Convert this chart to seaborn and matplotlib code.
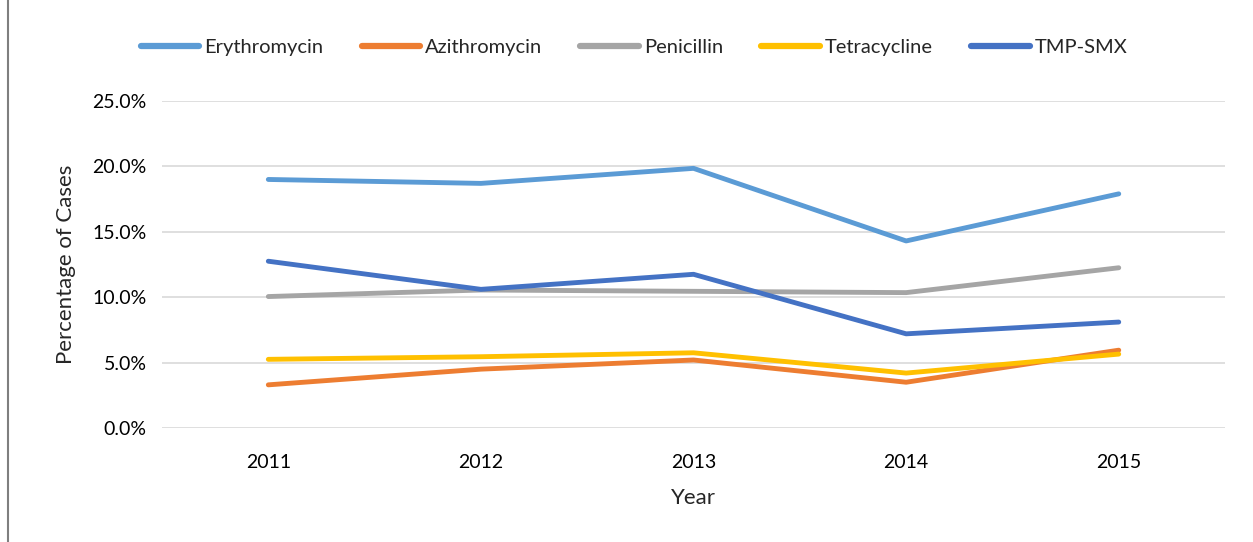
import matplotlib
matplotlib.use("Agg")
import matplotlib.pyplot as plt
from matplotlib.lines import Line2D
from matplotlib.ticker import PercentFormatter
import pandas as pd
import seaborn as sns

years = ["2011", "2012", "2013", "2014", "2015"]
erythromycin = [19.0, 18.7, 19.85, 14.3, 17.9]
azithromycin = [3.3, 4.5, 5.2, 3.5, 5.95]
penicillin = [10.05, 10.55, 10.45, 10.35, 12.25]
tetracycline = [5.25, 5.45, 5.75, 4.2, 5.65]
tmp_smx = [12.75, 10.6, 11.75, 7.2, 8.1]

series = {
    "Erythromycin": erythromycin,
    "Azithromycin": azithromycin,
    "Penicillin": penicillin,
    "Tetracycline": tetracycline,
    "TMP-SMX": tmp_smx,
}
colors = {
    "Erythromycin": "#5B9BD5",
    "Azithromycin": "#ED7D31",
    "Penicillin": "#A5A5A5",
    "Tetracycline": "#FFC000",
    "TMP-SMX": "#4472C4",
}

rows = []
for name, vals in series.items():
    for i, (y, v) in enumerate(zip(years, vals)):
        rows.append({"Year": y, "pos": i, "Drug": name, "Value": v})
df = pd.DataFrame(rows)

sns.set_style("white")
plt.rcParams["font.family"] = ["Lato", "DejaVu Sans"]

fig = plt.figure(figsize=(12.53, 5.42), dpi=100)
ax = fig.add_axes([0.1293, 0.2103, 0.8484, 0.6034])

sns.lineplot(data=df, x="pos", y="Value", hue="Drug", palette=colors,
             hue_order=list(series.keys()), linewidth=3.5, ax=ax,
             legend=False, solid_capstyle="round", solid_joinstyle="round")

ax.set_xlim(-0.5, 4.5)
ax.set_ylim(0, 25)
ax.set_yticks([0, 5, 10, 15, 20, 25])
ax.yaxis.set_major_formatter(PercentFormatter(decimals=1))
ax.set_xticks(range(len(years)))
ax.set_xticklabels(years)
ax.grid(axis="y", color="#D9D9D9", linewidth=1.2)
ax.set_axisbelow(True)
for s in ax.spines.values():
    s.set_visible(False)
ax.tick_params(axis="both", length=0, labelsize=14, colors="#000000")
ax.tick_params(axis="y", pad=11)
ax.tick_params(axis="x", pad=19)
ax.set_xlabel("Year", fontsize=16, labelpad=12)
ax.set_ylabel("Percentage of Cases", fontsize=16, labelpad=12)

handles = [Line2D([0], [0], color=colors[n], linewidth=4.5, solid_capstyle="round")
           for n in series]
fig.legend(handles, list(series.keys()), loc="center", bbox_to_anchor=(0.506, 0.913),
           ncol=5, frameon=False, fontsize=14.5, handlelength=2.9,
           handletextpad=0.25, columnspacing=1.9)

fig.add_artist(Line2D([0.0065, 0.0065], [0, 1], color="#7F7F7F", linewidth=1.5,
                      transform=fig.transFigure))

fig.savefig("out.png", dpi=100)
